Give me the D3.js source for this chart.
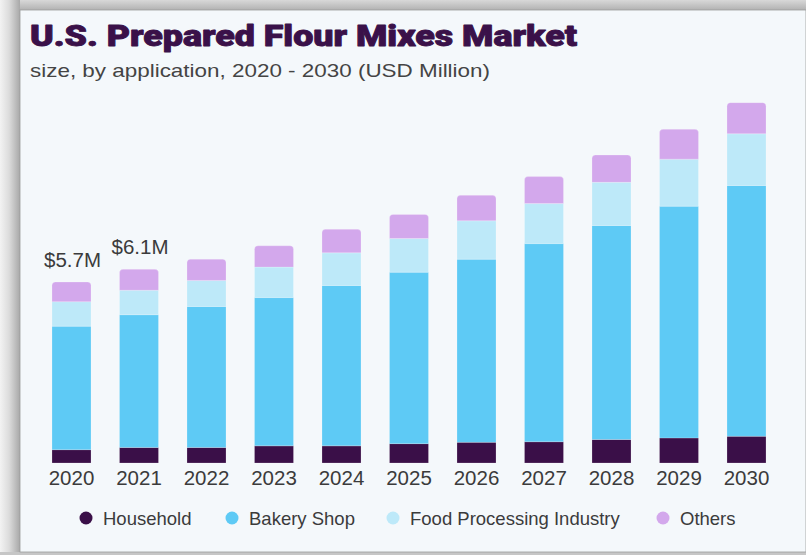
<!DOCTYPE html>
<html>
<head>
<meta charset="utf-8">
<script src="https://cdn.jsdelivr.net/npm/d3@7"></script>
<style>
  html, body { margin: 0; padding: 0; background: #e9e9e9; }
  svg { display: block; }
</style>
</head>
<body>
<svg id="chart" width="806" height="555"></svg>
<script>
// Market size by application, USD million
const years = ["2020","2021","2022","2023","2024","2025","2026","2027","2028","2029","2030"];
const household      = [0.42, 0.49, 0.49, 0.54, 0.54, 0.61, 0.65, 0.67, 0.74, 0.79, 0.84];
const bakeryShop     = [3.89, 4.18, 4.44, 4.67, 5.05, 5.40, 5.77, 6.24, 6.74, 7.30, 7.90];
const foodProcessing = [0.77, 0.77, 0.82, 0.96, 1.03, 1.06, 1.21, 1.26, 1.36, 1.48, 1.63];
const others         = [0.62, 0.66, 0.67, 0.67, 0.74, 0.76, 0.80, 0.85, 0.86, 0.94, 0.98];
const seriesNames = ["Household", "Bakery Shop", "Food Processing Industry", "Others"];
const seriesColors = ["#3a0f48", "#5ecaf5", "#bde9f9", "#d3a8ec"];
const valueLabels = [{ year: "2020", text: "$5.7M" }, { year: "2021", text: "$6.1M" }];

const rows = years.map((y, i) => ({
  year: y,
  "Household": household[i],
  "Bakery Shop": bakeryShop[i],
  "Food Processing Industry": foodProcessing[i],
  "Others": others[i]
}));

const svg = d3.select("#chart");
const W = 806, H = 555;

// frame: shaded margins around the card
const defs = svg.append("defs");
const gl = defs.append("linearGradient").attr("id", "edgeLeft").attr("x1", 0).attr("x2", 1).attr("y1", 0).attr("y2", 0);
gl.append("stop").attr("offset", "0%").attr("stop-color", "#f3f3f3");
gl.append("stop").attr("offset", "45%").attr("stop-color", "#dcdcdc");
gl.append("stop").attr("offset", "100%").attr("stop-color", "#a8a8a8");
const gt = defs.append("linearGradient").attr("id", "edgeTop").attr("x1", 0).attr("x2", 0).attr("y1", 0).attr("y2", 1);
gt.append("stop").attr("offset", "0%").attr("stop-color", "#d8d8d8");
gt.append("stop").attr("offset", "100%").attr("stop-color", "#b2b2b2");

svg.append("rect").attr("x", 0).attr("y", 0).attr("width", W).attr("height", H).attr("fill", "#e6e6e6");
svg.append("rect").attr("x", 0).attr("y", 0).attr("width", W).attr("height", 10).attr("fill", "url(#edgeTop)");
svg.append("rect").attr("x", 0).attr("y", 0).attr("width", 20).attr("height", H).attr("fill", "url(#edgeLeft)");
svg.append("rect").attr("x", 0).attr("y", 552).attr("width", W).attr("height", 3).attr("fill", "#c6c6c6");
svg.append("rect").attr("x", 20).attr("y", 10).attr("width", W - 20).attr("height", 542)
  .attr("fill", "#f4f8fb").attr("stroke", "#9c9c9c").attr("stroke-width", 0.8);

// titles
svg.append("text").attr("x", 30).attr("y", 46)
  .attr("font-family", "Roboto, 'Liberation Sans', sans-serif").attr("font-weight", 900)
  .attr("font-size", 29).attr("fill", "#3a1149")
  .attr("stroke", "#3a1149").attr("stroke-width", 0.9).attr("stroke-linejoin", "round")
  .attr("textLength", 547).attr("lengthAdjust", "spacingAndGlyphs")
  .text("U.S. Prepared Flour Mixes Market");
svg.append("text").attr("x", 30).attr("y", 77)
  .attr("font-family", "'Liberation Sans', Arial, sans-serif")
  .attr("font-size", 18.5).attr("fill", "#444")
  .attr("textLength", 460).attr("lengthAdjust", "spacingAndGlyphs")
  .text("size, by application, 2020 - 2030 (USD Million)");

// scales
const x = d3.scaleBand().domain(years).range([37.75, 780.25]).paddingInner(0.422).paddingOuter(0.211);
const y = d3.scaleLinear().domain([0, 12]).range([463, 463 - 12 * 31.75]);
const color = d3.scaleOrdinal().domain(seriesNames).range(seriesColors);

const stacked = d3.stack().keys(seriesNames)(rows);

// stacked bars; top segment gets rounded upper corners
function segPath(x0, w, yTop, yBot, r) {
  const p = d3.path();
  p.moveTo(x0, yBot);
  p.lineTo(x0, yTop + r);
  p.quadraticCurveTo(x0, yTop, x0 + r, yTop);
  p.lineTo(x0 + w - r, yTop);
  p.quadraticCurveTo(x0 + w, yTop, x0 + w, yTop + r);
  p.lineTo(x0 + w, yBot);
  p.closePath();
  return p.toString();
}

const layers = svg.append("g").selectAll("g").data(stacked).join("g")
  .attr("fill", d => color(d.key));
layers.each(function(layer, li) {
  const isTop = li === stacked.length - 1;
  d3.select(this).selectAll("path").data(layer).join("path")
    .attr("d", d => segPath(x(d.data.year), x.bandwidth(), y(d[1]), y(d[0]), isTop ? 3.5 : 0))
    .attr("stroke", "rgba(255,255,255,0.35)").attr("stroke-width", 0.6);
});

// x axis
const axis = svg.append("g").attr("transform", "translate(0,463)")
  .call(d3.axisBottom(x).tickSize(0).tickPadding(7));
axis.select(".domain").remove();
axis.selectAll("text")
  .attr("font-family", "'Liberation Sans', Arial, sans-serif")
  .attr("font-size", 20.5).attr("fill", "#3b3b3b");

// total labels
const totals = rows.map(r => seriesNames.reduce((s, k) => s + r[k], 0));
svg.append("g").selectAll("text").data(valueLabels).join("text")
  .attr("x", d => x(d.year) + x.bandwidth() / 2 + 1)
  .attr("y", d => y(totals[years.indexOf(d.year)]) - 15)
  .attr("text-anchor", "middle")
  .attr("font-family", "'Liberation Sans', Arial, sans-serif")
  .attr("font-size", 20.5).attr("fill", "#3b3b3b")
  .text(d => d.text);

// legend
const legendX = [86, 232, 393, 663];
const legend = svg.append("g").selectAll("g").data(seriesNames).join("g")
  .attr("transform", (d, i) => `translate(${legendX[i]},518)`);
legend.append("circle").attr("r", 6.5).attr("fill", d => color(d));
legend.append("text").attr("x", 17).attr("y", 6.5)
  .attr("font-family", "'Liberation Sans', Arial, sans-serif")
  .attr("font-size", 18.5).attr("fill", "#3b3b3b")
  .text(d => d);
</script>
</body>
</html>
